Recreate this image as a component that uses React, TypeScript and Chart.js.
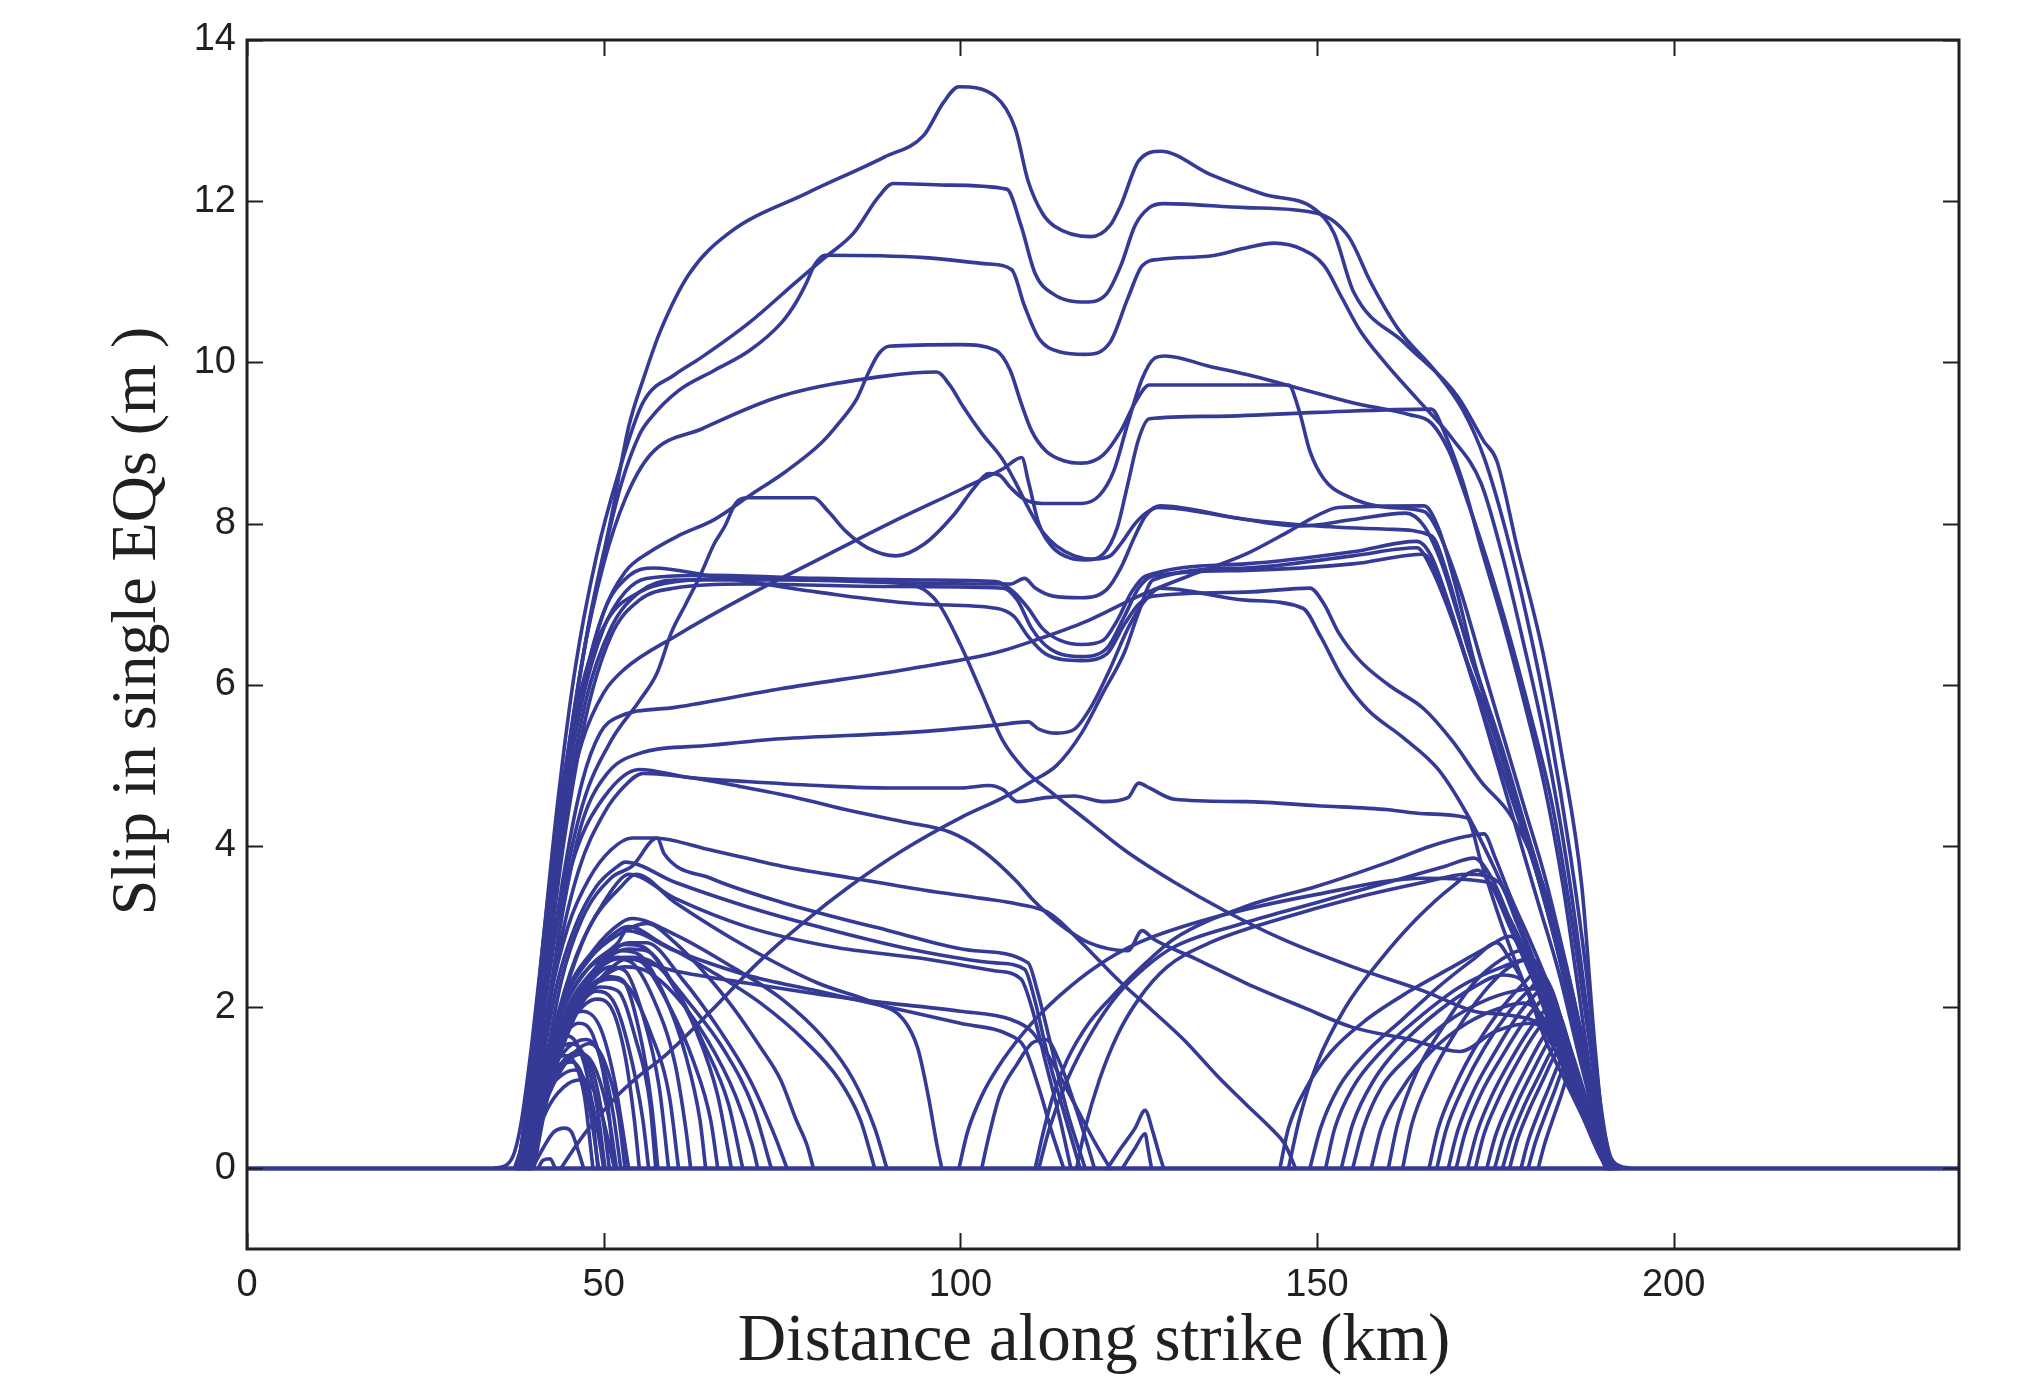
import React, { useEffect, useRef } from 'react';
import { Chart, registerables } from 'chart.js';

Chart.register(...registerables);

type Pt = [number, number];

const BLUE = '#343a95';
const INK = '#231f20';

const xTickValues = [0, 50, 100, 150, 200];
const yTickValues = [0, 2, 4, 6, 8, 10, 12, 14];
const xTitle = 'Distance along strike (km)';
const yTitle = 'Slip in single EQs (m )';

const baseline: Pt[] = [[0, 0], [240, 0]];

// ---- upper curves ----
const curveA: Pt[] = [[34.5,0],[36.5,0.05],[37.5,0.2],[38.5,0.6],[40,1.6],[42,3.2],[44,4.6],[45.6,5.5],[48,6.8],[51,8.05],[53.5,9.2],[55.7,9.83],[58,10.4],[62,11.1],[67.5,11.6],[78.5,12.1],[89.4,12.55],[94.9,12.82],[97.6,13.22],[99.8,13.42],[104.9,13.3],[107.7,12.9],[109.5,12.25],[111.5,11.85],[113.2,11.69],[118.3,11.56],[121,11.7],[122.5,11.95],[125,12.5],[128.1,12.62],[135.1,12.33],[142.4,12.09],[149.7,11.9],[152.4,11.6],[155.1,10.88],[162.4,10.23],[169.7,9.58],[173.4,9.02],[175.2,8.78],[178,7.73],[181.6,6.43],[184.3,5.14],[187.1,3.52],[188.9,1.58],[190.2,0.45],[191.6,0.08],[194,0]];
const curveB: Pt[] = [[38,0],[39.5,1.0],[41.5,2.8],[43.5,4.5],[46,6.2],[49,7.6],[52,8.6],[55.5,9.5],[60,9.85],[63.5,10.05],[70.5,10.5],[77,11.0],[81,11.3],[85,11.6],[88.5,12.05],[90.6,12.22],[98,12.2],[106.5,12.15],[108.5,11.7],[110.5,11.1],[113,10.85],[117.5,10.75],[120.5,10.85],[122.5,11.2],[124.5,11.7],[126.5,11.92],[128.5,11.97],[140,11.92],[150,11.85],[154.5,11.55],[157.5,11.0],[161.5,10.4],[166.5,9.9],[170.5,9.4],[173.5,8.8],[176.5,7.9],[179.5,6.8],[182.5,5.5],[185.5,3.9],[187.8,2.4],[189.6,0.9],[191.2,0.1],[192.5,0]];
const curveC: Pt[] = [[37.8,0],[38.5,0.3],[40,1.3],[42,3.0],[44.5,4.8],[47,6.3],[50,7.6],[52.5,8.5],[55,9.1],[56.5,9.3],[60.5,9.65],[65.5,9.9],[70.5,10.15],[75,10.5],[77,10.75],[78.5,11.0],[79.5,11.2],[81,11.33],[95,11.3],[104,11.22],[107.2,11.15],[109,10.7],[111,10.3],[114,10.13],[117.5,10.1],[121,10.25],[123.5,10.8],[125.5,11.2],[128,11.28],[135,11.32],[140,11.42],[144,11.48],[148,11.4],[151,11.2],[153.5,10.8],[156,10.4],[159.5,10.0],[164,9.55],[169,9.05],[173,8.5],[176,7.6],[179,6.5],[182,5.3],[185,3.8],[187.8,2.0],[189.8,0.5],[191.5,0]];
const curveD: Pt[] = [[38,0],[39.5,0.8],[41.5,2.4],[44,4.3],[47,5.9],[50,6.9],[53,7.4],[56.5,7.65],[60.5,7.85],[65.5,8.05],[70.5,8.35],[75.6,8.65],[80.5,9.0],[83,9.25],[85.5,9.55],[87,9.85],[88.5,10.1],[90,10.2],[100,10.22],[105,10.15],[107,9.9],[108.5,9.5],[110,9.15],[112,8.9],[114.5,8.78],[117,8.75],[120,8.85],[122.5,9.15],[124.5,9.5],[126.5,9.72],[146,9.72],[147.5,9.4],[149,8.9],[151,8.55],[154,8.35],[160,8.2],[165,8.15],[167,7.9],[170,7.2],[173,6.3],[176,5.4],[179,4.5],[182,3.6],[185,2.5],[188,1.3],[190.5,0.2],[192,0]];
const curveE: Pt[] = [[38,0],[39.5,0.9],[41.5,2.5],[44,4.5],[47,6.3],[50,7.5],[53,8.3],[56.6,8.86],[63.9,9.18],[74.8,9.58],[89.4,9.83],[96.7,9.88],[98.5,9.72],[100.4,9.45],[103,9.12],[105.9,8.8],[107.8,8.5],[109.5,8.2],[111.5,7.9],[113.5,7.72],[116,7.6],[118.6,7.56],[121,7.6],[122.5,7.75],[124.5,8.0],[126,8.13],[127.8,8.2],[138.7,8.07],[147.8,7.97],[155,8.05],[162.4,8.13],[165,7.97],[167.5,7.5],[170,6.8],[173,6.0],[176,5.2],[179,4.3],[182,3.4],[185,2.4],[187.5,1.3],[189.5,0.5],[191,0.05],[192,0]];
const curveG: Pt[] = [[38,0],[39.5,0.7],[41.5,1.9],[44,3.3],[47,4.5],[51,5.3],[55,5.8],[57.5,6.15],[59.5,6.65],[61.5,7.0],[63.5,7.35],[65.5,7.75],[67,7.97],[68.5,8.25],[70,8.32],[79.4,8.32],[81.5,8.15],[84,7.9],[87,7.7],[91,7.6],[95,7.75],[99,8.1],[102,8.45],[104,8.62],[105.5,8.6],[107,8.45],[109,8.3],[111.5,8.25],[114,8.25],[117,8.25],[119.5,8.35],[121.5,8.65],[123.5,9.25],[125.5,9.8],[127.2,10.05],[128.7,10.08],[135,9.95],[141,9.83],[147.8,9.67],[155,9.5],[163,9.35],[166,9.25],[168.5,8.9],[171,8.3],[174,7.5],[177,6.6],[180,5.6],[183,4.5],[185.5,3.2],[187.5,2.0],[189.5,0.8],[191.3,0.1],[192.3,0]];
const curveG2: Pt[] = [[38,0],[39.5,0.9],[41.5,2.6],[44,4.2],[47,5.3],[50,5.9],[53,6.2],[60,6.6],[70,7.1],[80,7.55],[90,8.0],[100,8.42],[106,8.68],[108.6,8.82],[109.6,8.5],[111,8.0],[113,7.7],[115.5,7.57],[117.5,7.55],[120,7.62],[122,7.95],[123.5,8.5],[125,9.05],[126.5,9.3],[135,9.33],[150,9.38],[166,9.42],[168,9.1],[170.5,8.5],[173,7.7],[176,6.8],[179,5.8],[182,4.7],[184.5,3.5],[186.5,2.3],[188.5,1.1],[190.5,0.25],[192,0]];

// ---- middle curves ----
const curveM1: Pt[] = [[38,0],[39.5,0.9],[41.5,2.5],[44,4.3],[47,5.8],[50,6.7],[53,7.15],[56,7.32],[65,7.36],[80,7.32],[95,7.3],[105,7.28],[107.5,7.15],[109.5,6.95],[111.5,6.7],[114,6.55],[117,6.5],[120,6.55],[122,6.8],[124,7.15],[126,7.35],[140,7.5],[155,7.65],[164,7.78],[166,7.6],[168.5,7.0],[171,6.3],[174,5.6],[177,4.8],[180,4.0],[183,3.1],[185.5,2.2],[188,1.1],[190.3,0.25],[191.8,0]];
const curveM2: Pt[] = [[38.5,0],[40,0.9],[42,2.4],[44.5,4.1],[47.5,5.6],[51,6.6],[55,7.05],[60,7.2],[70,7.25],[90,7.22],[106,7.2],[108,7.05],[110,6.7],[112.5,6.45],[117,6.35],[120.5,6.45],[123,6.85],[125,7.2],[127,7.35],[140,7.42],[155,7.5],[165,7.62],[167,7.3],[169.5,6.7],[172,6.0],[175,5.2],[178,4.4],[181,3.6],[184,2.6],[186.5,1.6],[189,0.6],[191,0.05],[192,0]];
const curveM3: Pt[] = [[38,0],[39.5,0.8],[41.5,2.3],[44,4.2],[47,5.9],[50,6.9],[53.5,7.35],[57,7.45],[65,7.35],[80,7.15],[95,7.0],[105,6.95],[107.5,6.85],[109.5,6.6],[112,6.38],[117,6.3],[120.5,6.38],[123,6.75],[125,7.0],[127,7.1],[140,7.15],[149,7.2],[151,7.0],[153,6.65],[156,6.3],[160,6.0],[165,5.7],[169,5.3],[173,4.8],[177,4.4],[180.5,3.8],[183.5,3.0],[186,2.1],[188.5,1.0],[190.5,0.2],[192,0]];
const curveM4: Pt[] = [[38,0],[39.5,0.9],[41.5,2.6],[44,4.5],[47,6.0],[50.5,6.8],[55,7.15],[60,7.28],[70,7.32],[90,7.27],[107,7.25],[109,7.32],[110.5,7.2],[113,7.1],[117,7.08],[120.5,7.18],[122.5,7.45],[124.5,7.85],[126,8.1],[128,8.22],[140,8.05],[150,7.97],[160,7.93],[166,7.85],[168.5,7.3],[171,6.5],[174,5.7],[177,4.8],[180,3.9],[183,3.0],[185.5,2.1],[188,1.1],[190.3,0.25],[191.8,0]];
const curveL1: Pt[] = [[38.5,0],[40,0.8],[42,2.2],[44.5,3.7],[47,4.8],[49.5,5.4],[52,5.6],[60,5.72],[74.8,5.95],[93,6.2],[105,6.4],[112,6.6],[118,6.8],[125,7.1],[132,7.35],[140,7.62],[146,7.9],[150,8.1],[153,8.2],[165,8.22],[167,7.95],[169.5,7.2],[172,6.3],[175,5.4],[178,4.5],[181,3.6],[184,2.6],[186.5,1.6],[189,0.6],[191,0.05],[192,0]];
const curveL2: Pt[] = [[38.5,0],[40,0.7],[42,1.9],[44.5,3.3],[47,4.3],[50.5,4.9],[54.7,5.14],[65,5.25],[74.8,5.33],[93,5.41],[105,5.5],[109.5,5.54],[111,5.45],[113.5,5.4],[116,5.45],[118.5,5.75],[121,6.2],[123.5,6.7],[125.5,7.0],[128,7.2],[140,7.05],[148,6.95],[150.5,6.6],[153.5,6.1],[157,5.7],[162,5.35],[167,4.95],[171,4.4],[175,3.7],[179,2.9],[182.5,2.1],[185.5,1.4],[188,0.7],[190.5,0.1],[192,0]];
const curveP1: Pt[] = [[38.5,0],[40,0.9],[42,2.5],[44.5,4.3],[47.5,5.8],[51,6.7],[55,7.15],[60,7.3],[75,7.3],[88,7.28],[94,7.22],[97,7.0],[100,6.5],[103,5.9],[106,5.3],[109,4.95],[113,4.65],[118,4.3],[123,3.95],[130,3.55],[137,3.2],[145,2.85],[155,2.5],[165,2.2],[172,1.95],[177,1.9],[181,1.8],[184,1.5],[187,0.9],[189.5,0.3],[191,0]];

// ---- lower curves ----
const curveN1: Pt[] = [[38.5,0],[40.5,1.3],[43,2.8],[46,3.9],[50,4.6],[55,4.95],[62,4.85],[70,4.8],[80,4.75],[90,4.72],[100,4.72],[104,4.75],[106,4.7],[108,4.55],[112,4.6],[116,4.62],[120,4.55],[123.5,4.6],[125,4.78],[126.5,4.72],[130,4.58],[140,4.55],[150,4.5],[160,4.45],[165,4.4],[171,4.35],[173,3.8],[176,3.0],[179,2.3],[182,1.7],[185,1.2],[188,0.6],[190.5,0.1],[192,0]];
const curveN2: Pt[] = [[39,0],[41,1.2],[43.5,2.6],[46.5,3.7],[50,4.4],[53,4.75],[55.5,4.9],[62,4.85],[69,4.74],[77,4.6],[84.5,4.44],[92,4.3],[98.6,4.17],[103,3.95],[107.8,3.57],[110,3.35],[113.5,3.06],[118,2.8],[123.5,2.7],[125.5,2.95],[127,2.85],[133,2.6],[140,2.3],[148,2.0],[155,1.75],[163,1.6],[170,1.45],[175,1.7],[180,1.8],[184,1.5],[187,0.9],[190,0.2],[191.5,0]];
const curveN3: Pt[] = [[44,0],[45.5,0.2],[47.5,0.45],[51.9,0.9],[55,1.15],[58.6,1.4],[65,1.95],[71.6,2.55],[78,3.05],[84.5,3.5],[92,3.95],[100,4.35],[106,4.6],[110,4.8],[113.5,5.0],[117,5.4],[120,5.9],[123,6.4],[125,6.9],[127,7.3],[140,7.45],[155,7.6],[164,7.7],[166,7.45],[169,6.8],[172,6.0],[175,5.1],[178,4.2],[181,3.3],[184,2.4],[187,1.3],[190,0.3],[191.5,0]];
const curveN4a: Pt[] = [[39,0],[41,1.1],[43.5,2.3],[46,3.0],[49,3.5],[52,3.75],[53,3.8],[60,3.55],[70,3.25],[80,3.0],[93,2.72],[105,2.55],[109,2.47],[110.4,2.1],[112.2,1.42],[114.5,0.7],[116.8,0]];
const curveN4b: Pt[] = [[39.5,0],[41.5,1.1],[44,2.3],[47,3.1],[51,3.6],[54,3.75],[57.5,4.1],[58.5,3.9],[65,3.6],[75,3.3],[90,2.95],[102,2.7],[109.5,2.55],[110.8,2.2],[112.5,1.6],[115,0.7],[117.5,0]];
const curveN4c: Pt[] = [[39.5,0],[41.5,1.0],[44,2.0],[47,2.8],[50,3.3],[52.5,3.6],[53.5,3.65],[60,3.35],[70,3.0],[82,2.75],[95,2.6],[105,2.45],[108.5,2.35],[110,2.0],[112,1.3],[114,0.6],[115.5,0]];
const curveN4d: Pt[] = [[39,0],[41,1.0],[44,1.9],[48,2.5],[52,2.8],[53.2,2.95],[60,2.7],[70,2.4],[80,2.2],[90,2.0],[100,1.8],[107,1.65],[109,1.5],[111,1.0],[113,0.4],[114.5,0]];
const curveN6: Pt[] = [[39.5,0],[41.5,1.0],[44,1.9],[47,2.4],[50,2.6],[52,2.62],[60,2.45],[70,2.3],[85,2.1],[100,1.95],[107,1.85],[110,1.7],[113,1.3],[116,0.8],[119,0.3],[121,0]];
const curveP2: Pt[] = [[39,0],[40.5,0.9],[42.5,2.1],[45,3.0],[48,3.6],[51,3.95],[54,4.1],[57,4.1],[65,3.95],[75,3.75],[85,3.6],[95,3.45],[103,3.35],[108,3.28],[112.6,3.16],[117,2.8],[122,2.35],[127,1.95],[131.4,1.59],[136,1.15],[140,0.8],[143.5,0.5],[145.5,0.3],[147,0]];

const curveS1: Pt[] = [[39,0],[41,1],[44,2],[48,2.6],[52,2.9],[56,3.04],[60,2.8],[67.5,2.07],[72,1.5],[74.8,1.1],[77,0.6],[78.5,0.29],[79.4,0]];
const curveS2: Pt[] = [[39,0],[41,1],[44,2],[48,2.6],[52,2.95],[53.5,3.0],[58,2.8],[65,2.45],[72,2.05],[78,1.6],[83,1.1],[86,0.6],[88,0]];
const curveS3: Pt[] = [[39.5,0],[41.5,1],[44.5,2.1],[48.5,2.7],[52.5,3.05],[54,3.1],[60,2.9],[68,2.5],[75,2.1],[81,1.6],[85,1.1],[88,0.5],[89.7,0]];
const curveS4: Pt[] = [[39.5,0],[41.5,1.1],[44.5,2.2],[48,3.0],[52.5,3.5],[54.5,3.65],[60,3.3],[70,2.75],[80,2.3],[88,2.05],[92,1.85],[94,1.5],[95.5,0.9],[96.7,0.3],[97.4,0]];

const curveT1: Pt[] = [[37.5,0],[39,0.4],[40.5,0.9],[42.5,1.25],[44.5,1.4],[46,1.3],[47.3,0.9],[48.5,0]];
const curveT2: Pt[] = [[38,0],[39.5,0.5],[41,0.95],[43,1.2],[45.5,1.32],[47,1.15],[48.3,0.6],[49.3,0]];
const curveT3: Pt[] = [[38,0],[39.5,0.45],[41.5,0.9],[44,1.15],[46,1.22],[48,0.95],[49.2,0.45],[50,0]];
const curveT4: Pt[] = [[38.5,0],[40,0.5],[42,1.0],[44.5,1.35],[46.5,1.45],[48.5,1.2],[50,0.55],[50.8,0]];
const curveT5: Pt[] = [[39,0],[40.5,0.4],[42.5,0.8],[45,1.05],[47,1.1],[49,0.9],[50.5,0.4],[51.5,0]];
const curveT6: Pt[] = [[38.5,0],[40,0.6],[42,1.1],[45,1.5],[47.5,1.6],[49.5,1.4],[51.3,0.7],[52.4,0]];
const curveT7: Pt[] = [[38.5,0],[40.5,0.8],[43,1.4],[46,1.9],[49,2.1],[51,2.0],[53,1.4],[54.3,0.6],[55,0]];
const curveT8: Pt[] = [[39,0],[41,0.9],[43.5,1.6],[47,2.15],[50.5,2.38],[52.5,2.35],[55,1.7],[56.7,0.8],[57.6,0]];
const curveT9: Pt[] = [[39,0],[41,0.9],[44,1.7],[47.5,2.25],[51,2.5],[53,2.45],[55.5,1.9],[57.8,1.0],[59.1,0]];
const curveT10: Pt[] = [[39,0],[41,0.9],[44,1.75],[48,2.35],[52,2.6],[54,2.55],[57,2.1],[60,1.3],[61.5,0.5],[62.2,0]];
const curveT11: Pt[] = [[39.5,0],[41.5,1.0],[44.5,1.9],[48.5,2.45],[52.5,2.7],[55,2.65],[58.5,2.15],[61.5,1.4],[63.5,0.6],[64.3,0]];
const curveT12: Pt[] = [[39.5,0],[41.5,0.95],[45,1.9],[49,2.5],[53,2.78],[55.5,2.75],[59.5,2.3],[63,1.7],[66,0.9],[67.9,0]];
const curveT13: Pt[] = [[39.5,0],[41.5,0.9],[45,1.8],[49,2.3],[53,2.5],[56,2.45],[60,2.15],[64.5,1.6],[68.5,0.9],[70.8,0.3],[71.6,0]];
const curveT14: Pt[] = [[40,0],[42,0.95],[45.5,1.9],[49.5,2.5],[53.5,2.8],[56,2.8],[61,2.35],[66,1.75],[70.5,1.1],[74,0.4],[75.7,0]];
const curveT15: Pt[] = [[38,0],[39.5,0.55],[41.5,1.15],[44,1.6],[46.5,1.8],[48.5,1.65],[50.3,1.0],[51.5,0]];
const curveT16: Pt[] = [[40.8,0],[41.5,0.1],[42.5,0.12],[43.2,0]];
const curveT17: Pt[] = [[37.8,0],[39,0.5],[40.5,1.0],[42.5,1.45],[44.5,1.65],[46.5,1.5],[48,1.0],[49.2,0]];
const curveT18: Pt[] = [[38.2,0],[39.5,0.55],[41.5,1.1],[43.5,1.45],[45.5,1.55],[47.5,1.35],[49,0.8],[50.2,0]];
const curveT19: Pt[] = [[38.8,0],[40.2,0.5],[42,0.95],[44.5,1.3],[47,1.42],[49,1.2],[50.8,0.6],[51.8,0]];
const curveT20: Pt[] = [[39.2,0],[40.8,0.55],[43,1.05],[45.5,1.4],[48,1.55],[50,1.35],[52,0.7],[53,0]];
const curveT21: Pt[] = [[38.5,0],[40,0.7],[42,1.35],[44.5,1.8],[47,1.95],[49.5,1.75],[51.5,1.1],[53.5,0]];
const curveT22: Pt[] = [[39,0],[40.8,0.75],[43,1.45],[46,1.95],[49,2.2],[51.5,2.05],[53.5,1.5],[55.5,0.6],[56.3,0]];
const curveT23: Pt[] = [[39.3,0],[41,0.8],[43.5,1.5],[46.5,2.0],[49.5,2.25],[52,2.2],[54.5,1.6],[56.5,0.8],[57.3,0]];
const curveT24: Pt[] = [[40,0],[41.5,0.25],[43,0.45],[44.5,0.5],[45.5,0.45],[46.5,0.2],[47.2,0]];
const curveT25: Pt[] = [[39.2,0],[41,0.85],[43.8,1.7],[47.5,2.2],[51,2.35],[53.5,2.25],[56.5,1.7],[59.2,0.9],[60.5,0]];
const curveT26: Pt[] = [[39.6,0],[41.6,0.95],[44.8,1.9],[48.8,2.45],[53,2.62],[55.5,2.55],[59,2.05],[62.5,1.35],[65,0.6],[66,0]];
const curveT27: Pt[] = [[39.8,0],[41.8,0.95],[45.2,1.95],[49.2,2.5],[53.5,2.72],[56,2.7],[60,2.25],[64,1.55],[67.5,0.8],[69.5,0]];
const curveT28: Pt[] = [[40.2,0],[42.2,0.9],[45.8,1.85],[50,2.4],[54,2.62],[57,2.55],[62,2.05],[67,1.45],[71,0.75],[73.5,0]];

const curveQ1: Pt[] = [[110.5,0],[111.5,0.4],[113,0.9],[115,1.35],[118,1.8],[122,2.2],[126,2.55],[130,2.85],[140,3.25],[150,3.5],[160,3.8],[166,4.0],[171,4.12],[173.4,4.15],[175,3.85],[177,3.4],[180,2.8],[183,2.15],[185.5,1.5],[188,0.8],[190.5,0.1],[191.5,0]];
const curveQ2: Pt[] = [[111,0],[112.5,0.5],[115,1.1],[118.5,1.7],[122,2.15],[126,2.5],[130,2.75],[140,3.05],[150,3.3],[160,3.55],[168,3.75],[172,3.85],[174.5,3.6],[177,3.1],[180,2.5],[183,1.9],[186,1.25],[188.5,0.6],[190.5,0.05],[191.5,0]];
const curveQ3: Pt[] = [[116.3,0],[117.5,0.5],[119.5,1.1],[122,1.65],[125,2.1],[129,2.5],[135,2.8],[145,3.1],[155,3.35],[165,3.55],[171,3.65],[175.5,3.55],[178,3.05],[181,2.4],[184,1.75],[186.5,1.1],[189,0.45],[191,0]];
const curveQ4: Pt[] = [[99.8,0],[101,0.45],[103,0.9],[106,1.35],[110,1.8],[114,2.15],[119,2.5],[125,2.8],[135,3.1],[150,3.4],[165,3.6],[174,3.55],[177,3.1],[180,2.55],[183,1.95],[186,1.25],[188.5,0.6],[190.5,0.05],[191.5,0]];
const curveQ5: Pt[] = [[103,0],[104,0.4],[105.5,0.9],[108,1.3],[110,1.55],[112,1.6],[114,1.3],[116,0.8],[117.8,0.3],[118.8,0]];
const curveZ1: Pt[] = [[120.6,0],[122.5,0.25],[124.5,0.5],[125.9,0.72],[127,0.45],[127.8,0.2],[128.5,0]];
const curveZ2: Pt[] = [[122.7,0],[124.5,0.25],[125.9,0.43],[126.3,0.25],[126.8,0]];

const curveRA1: Pt[] = [[144.8,0],[146,0.5],[148.5,1.0],[152,1.45],[157,1.85],[163,2.2],[169,2.5],[174,2.75],[177,2.88],[178.5,2.75],[180.5,2.3],[183,1.7],[186,1.0],[188.5,0.5],[191,0]];
const curveRA2: Pt[] = [[149,0],[150.5,0.5],[153,1.0],[157,1.45],[162,1.85],[167,2.25],[172,2.6],[175.2,2.8],[177,2.6],[179.5,2.2],[182,1.6],[185,1.05],[188,0.5],[190.5,0]];
const curveRA3: Pt[] = [[151.2,0],[152.5,0.5],[155,1.0],[159,1.45],[164,1.85],[170,2.25],[176,2.5],[179.8,2.6],[181.5,2.35],[183.5,1.8],[186,1.1],[188.5,0.5],[190.5,0]];
const curveRA4: Pt[] = [[153.4,0],[155,0.55],[158,1.1],[162,1.55],[167,1.95],[172,2.25],[176,2.4],[178.5,2.35],[181,1.95],[184,1.35],[187,0.7],[190,0.1],[191,0]];
const curveRA5: Pt[] = [[155,0],[156.5,0.5],[159,1.0],[163,1.4],[168,1.8],[174,2.1],[179,2.22],[181.6,2.23],[183.5,1.9],[186,1.2],[188.5,0.5],[190.5,0]];
const curveRA6: Pt[] = [[157.6,0],[159,0.5],[162,1.0],[166,1.45],[171,1.8],[176,2.0],[179,2.05],[181,1.95],[184,1.5],[187,0.8],[189.5,0.2],[191,0]];
const curveRA7: Pt[] = [[165.7,0],[167,0.5],[169.5,1.05],[172.5,1.55],[176,2.0],[179,2.3],[181,2.45],[183,2.2],[185,1.6],[187,0.95],[189,0.4],[190.8,0]];
const curveRA8: Pt[] = [[166.8,0],[168.1,0.48],[170.5,1.0],[173.5,1.5],[177,1.95],[179.8,2.22],[181.5,2.35],[183.3,2.1],[185.2,1.5],[187.2,0.9],[189.1,0.38],[190.8,0]];
const curveRA9: Pt[] = [[168.4,0],[169.7,0.46],[172,0.97],[175,1.45],[178,1.88],[180.5,2.15],[182,2.25],[183.7,2.0],[185.5,1.42],[187.4,0.85],[189.2,0.35],[190.9,0]];
const curveRA10: Pt[] = [[169.5,0],[170.8,0.45],[173,0.93],[176,1.4],[179,1.82],[181.2,2.06],[182.5,2.15],[184,1.9],[185.8,1.36],[187.6,0.8],[189.3,0.32],[190.9,0]];
const curveRA11: Pt[] = [[171.1,0],[172.4,0.44],[174.5,0.9],[177.2,1.35],[180,1.75],[182,1.97],[183,2.05],[184.4,1.82],[186,1.3],[187.8,0.76],[189.4,0.3],[191,0]];
const curveRA12: Pt[] = [[172.2,0],[173.4,0.42],[175.5,0.87],[178,1.3],[180.6,1.68],[182.4,1.88],[183.3,1.95],[184.6,1.73],[186.2,1.24],[187.9,0.72],[189.5,0.28],[191,0]];
const curveRA13: Pt[] = [[173.8,0],[175,0.4],[177,0.83],[179.3,1.24],[181.5,1.6],[183,1.79],[183.6,1.85],[184.9,1.65],[186.4,1.18],[188,0.68],[189.6,0.26],[191,0]];
const curveRA14: Pt[] = [[174.9,0],[176.1,0.38],[178,0.8],[180.1,1.18],[182.1,1.52],[183.4,1.7],[184,1.75],[185.2,1.56],[186.6,1.12],[188.2,0.64],[189.7,0.24],[191.1,0]];
const curveRA15: Pt[] = [[176,0],[177.2,0.37],[179,0.77],[181,1.13],[182.8,1.45],[183.9,1.6],[184.3,1.65],[185.4,1.48],[186.8,1.06],[188.3,0.6],[189.8,0.22],[191.1,0]];
const curveRA16: Pt[] = [[177,0],[178.1,0.36],[179.8,0.74],[181.6,1.08],[183.2,1.38],[184.2,1.51],[184.6,1.55],[185.6,1.4],[187,1.0],[188.4,0.56],[189.9,0.2],[191.2,0]];
const curveRA17: Pt[] = [[178.6,0],[179.6,0.34],[181.1,0.7],[182.6,1.02],[183.9,1.3],[184.7,1.42],[185,1.45],[185.9,1.3],[187.2,0.92],[188.6,0.52],[190,0.18],[191.2,0]];
const curveRA18: Pt[] = [[179.6,0],[180.6,0.32],[182,0.66],[183.3,0.96],[184.4,1.22],[185.1,1.32],[185.3,1.35],[186.1,1.22],[187.4,0.86],[188.7,0.48],[190.1,0.16],[191.3,0]];
const curveRA19: Pt[] = [[181,0],[181.9,0.3],[183.1,0.62],[184.2,0.9],[185,1.12],[185.5,1.22],[185.7,1.25],[186.4,1.12],[187.6,0.8],[188.9,0.44],[190.2,0.14],[191.3,0]];
const curveRA20: Pt[] = [[162,0],[163.3,0.55],[166,1.15],[169.5,1.7],[173.5,2.2],[177,2.5],[180,2.6],[182,2.35],[184.5,1.7],[186.8,1.0],[188.8,0.42],[190.8,0]];
const curveRA21: Pt[] = [[160,0],[161.3,0.55],[164,1.2],[168,1.8],[172,2.3],[176,2.6],[178.5,2.7],[180.5,2.45],[183,1.85],[185.8,1.1],[188.3,0.45],[190.6,0]];
const curveRB1: Pt[] = [[146,0],[147.5,0.6],[150,1.3],[154,2.0],[159,2.6],[164,3.1],[169,3.5],[172.5,3.7],[174.5,3.5],[177,3.0],[180,2.4],[183,1.8],[186,1.1],[188.5,0.5],[190.5,0]];

const curves: Pt[][] = [
  curveA, curveB, curveC, curveD, curveE, curveG, curveG2,
  curveM1, curveM2, curveM3, curveM4, curveL1, curveL2, curveP1,
  curveN1, curveN2, curveN3, curveN4a, curveN4b, curveN4c, curveN4d, curveN6, curveP2,
  curveS1, curveS2, curveS3, curveS4,
  curveT1, curveT2, curveT3, curveT4, curveT5, curveT6, curveT7, curveT8, curveT9, curveT10,
  curveT11, curveT12, curveT13, curveT14, curveT15, curveT16, curveT17, curveT18, curveT19,
  curveT20, curveT21, curveT22, curveT23, curveT24, curveT25, curveT26, curveT27, curveT28,
  curveQ1, curveQ2, curveQ3, curveQ4, curveQ5, curveZ1, curveZ2,
  curveRA1, curveRA2, curveRA3, curveRA4, curveRA5, curveRA6, curveRA7, curveRA8, curveRA9,
  curveRA10, curveRA11, curveRA12, curveRA13, curveRA14, curveRA15, curveRA16, curveRA17, curveRA18,
  curveRA19, curveRA20, curveRA21, curveRB1,
];

const framePlugin = {
  id: 'matlabFrame',
  afterDraw(chart: any) {
    const { ctx, chartArea, scales } = chart;
    const { left, right, top, bottom } = chartArea;
    const xs = scales.x;
    const ys = scales.y;
    ctx.save();
    ctx.strokeStyle = INK;
    ctx.lineWidth = 2;
    ctx.beginPath();
    const tl = 16;
    xTickValues.forEach((v) => {
      const px = Math.round(xs.getPixelForValue(v)) + 0.5;
      ctx.moveTo(px, bottom);
      ctx.lineTo(px, bottom - tl);
      ctx.moveTo(px, top);
      ctx.lineTo(px, top + tl);
    });
    yTickValues.forEach((v) => {
      const py = Math.round(ys.getPixelForValue(v)) + 0.5;
      ctx.moveTo(left, py);
      ctx.lineTo(left + tl, py);
      ctx.moveTo(right, py);
      ctx.lineTo(right - tl, py);
    });
    ctx.stroke();
    ctx.lineWidth = 3;
    ctx.strokeRect(left, top, right - left, bottom - top);

    ctx.fillStyle = INK;
    ctx.textAlign = 'center';
    ctx.textBaseline = 'alphabetic';
    ctx.font = '67px "Liberation Serif", "Times New Roman", serif';
    ctx.fillText(xTitle, 1094, 1360);
    ctx.translate(155, 621);
    ctx.rotate(-Math.PI / 2);
    ctx.font = '64px "Liberation Serif", "Times New Roman", serif';
    ctx.fillText(yTitle, 0, 0);
    ctx.restore();
  },
};

export default function App() {
  const ref = useRef<HTMLCanvasElement | null>(null);

  useEffect(() => {
    document.body.style.margin = '0';
    const canvas = ref.current;
    if (!canvas) return;
    const toXY = (c: Pt[]) => c.map(([x, y]) => ({ x, y }));
    const datasets: any[] = [
      {
        data: toXY(baseline),
        borderColor: BLUE,
        borderWidth: 4.5,
        pointRadius: 0,
        fill: false,
      },
      ...curves.map((c) => ({
        data: toXY(c),
        borderColor: BLUE,
        borderWidth: 3.6,
        pointRadius: 0,
        fill: false,
        cubicInterpolationMode: 'monotone',
        borderJoinStyle: 'round',
        borderCapStyle: 'round',
      })),
    ];
    const tickFont = { family: '"Liberation Sans", Arial, Helvetica, sans-serif', size: 38 };
    const chart = new Chart(canvas, {
      type: 'line',
      data: { datasets },
      options: {
        responsive: false,
        animation: false,
        devicePixelRatio: 1,
        layout: { padding: { top: 40, right: 81, left: 0, bottom: 0 } },
        plugins: { legend: { display: false }, tooltip: { enabled: false } },
        events: [],
        scales: {
          x: {
            type: 'linear',
            min: 0,
            max: 240,
            afterBuildTicks: (s: any) => {
              s.ticks = xTickValues.map((v) => ({ value: v }));
            },
            afterFit: (s: any) => {
              s.height = 129;
            },
            grid: { display: false, drawTicks: false },
            border: { display: false },
            ticks: { font: tickFont, color: INK, padding: 14, maxRotation: 0, autoSkip: false },
          },
          y: {
            type: 'linear',
            min: -1,
            max: 14,
            afterBuildTicks: (s: any) => {
              s.ticks = yTickValues.map((v) => ({ value: v }));
            },
            afterFit: (s: any) => {
              s.width = 247;
            },
            grid: { display: false, drawTicks: false },
            border: { display: false },
            ticks: { font: tickFont, color: INK, padding: 11, autoSkip: false },
          },
        },
      } as any,
      plugins: [framePlugin],
    });
    return () => chart.destroy();
  }, []);

  return (
    <div style={{ width: 2040, height: 1378, position: 'relative', background: '#fff' }}>
      <canvas ref={ref} width={2040} height={1378} style={{ display: 'block', width: 2040, height: 1378 }} />
    </div>
  );
}
